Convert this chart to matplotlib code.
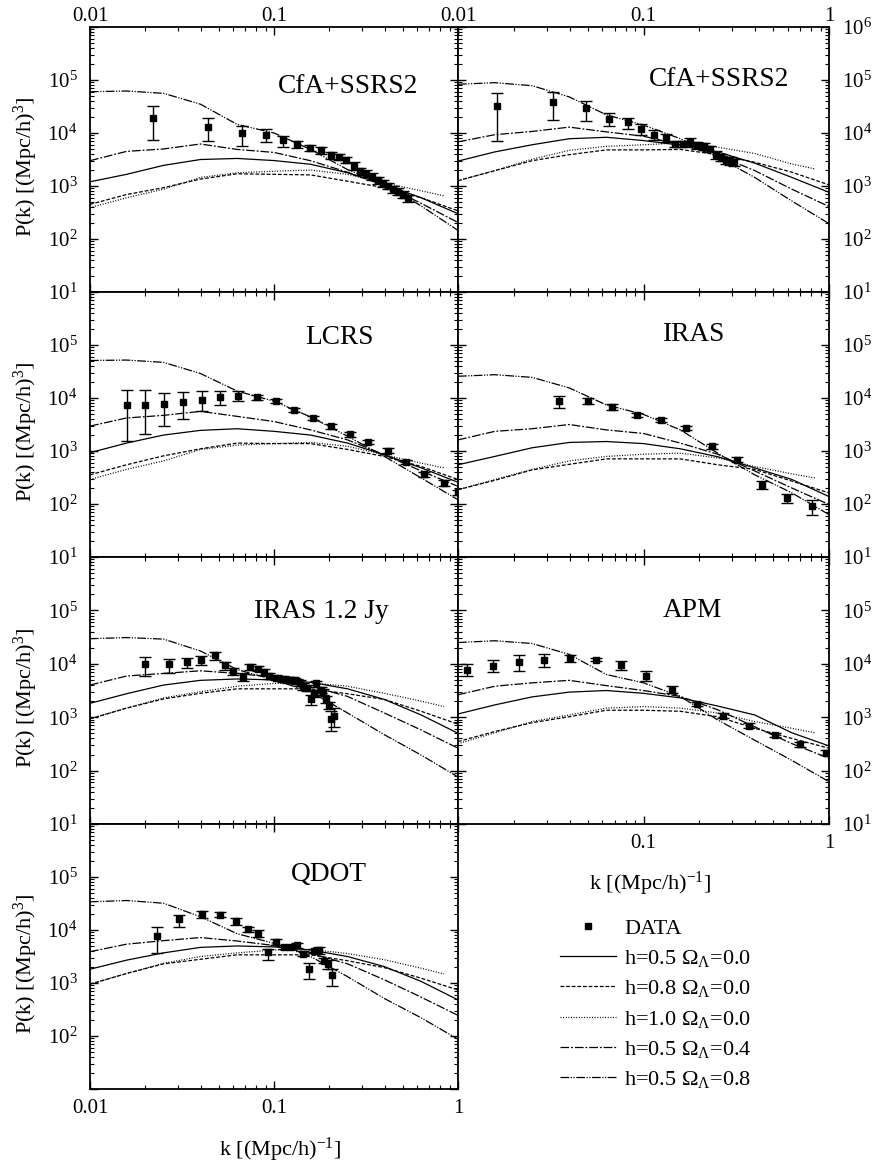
import matplotlib
matplotlib.use('Agg')
import matplotlib.pyplot as plt
from matplotlib.ticker import LogLocator, NullFormatter
from matplotlib.lines import Line2D

plt.rcParams['font.family'] = ['Liberation Serif', 'DejaVu Serif']
plt.rcParams['mathtext.fontset'] = 'custom'
plt.rcParams['mathtext.rm'] = 'Liberation Serif'
plt.rcParams['mathtext.it'] = 'Liberation Serif:italic'
plt.rcParams['mathtext.default'] = 'regular'

# model k grid (dotted model stops before k=1)
k_model = [0.01, 0.0158, 0.0251, 0.0398, 0.0631, 0.1, 0.158, 0.251, 0.398, 0.631, 1.0]
k_dotted = [0.01, 0.0158, 0.0251, 0.0398, 0.0631, 0.1, 0.158, 0.251, 0.398, 0.631, 0.84]

model_labels = [r'h=0.5 $\Omega_{\Lambda}$=0.0', r'h=0.8 $\Omega_{\Lambda}$=0.0',
                r'h=1.0 $\Omega_{\Lambda}$=0.0', r'h=0.5 $\Omega_{\Lambda}$=0.4',
                r'h=0.5 $\Omega_{\Lambda}$=0.8']

# ---- CfA+SSRS2 (left) ----
cfa1_k = [0.022, 0.044, 0.067, 0.090, 0.112, 0.134, 0.157, 0.181, 0.203, 0.226, 0.247,
          0.271, 0.292, 0.318, 0.343, 0.368, 0.392, 0.418, 0.445, 0.474, 0.505, 0.537]
cfa1_p = [19500, 13200, 9800, 9100, 7400, 6200, 5200, 4700, 3800, 3550, 3100,
          2400, 1900, 1700, 1510, 1290, 1120, 1000, 870, 780, 690, 590]
cfa1_lo = [7300, 7100, 5600, 6800, 5500, 5300, 4500, 4000, 3300, 3100, 2700,
           2000, 1600, 1450, 1300, 1100, 960, 860, 750, 670, 590, 500]
cfa1_hi = [33000, 19500, 13500, 11700, 8700, 7200, 6000, 5400, 4300, 4000, 3500,
           2800, 2200, 2000, 1750, 1500, 1300, 1160, 1010, 900, 800, 690]
cfa1_m1 = [1200, 1660, 2450, 3160, 3310, 3020, 2570, 1780, 1070, 600, 300]
cfa1_m2 = [450, 690, 930, 1350, 1700, 1660, 1620, 1230, 930, 600, 340]
cfa1_m3 = [390, 600, 870, 1450, 1780, 1900, 2000, 1660, 1150, 810, 650]
cfa1_m4 = [3000, 4500, 5000, 6200, 4900, 4300, 3000, 1820, 1020, 470, 205]
cfa1_m5 = [60000, 62000, 56000, 35000, 14500, 10000, 4900, 2040, 1070, 420, 145]

# ---- CfA+SSRS2 (right) ----
cfa2_k = [0.0163, 0.0326, 0.049, 0.0655, 0.0822, 0.0975, 0.114, 0.1315, 0.147, 0.163,
          0.1775, 0.195, 0.212, 0.228, 0.245, 0.261, 0.278, 0.292, 0.308]
cfa2_p = [32000, 39000, 29000, 18700, 15800, 12000, 9300, 8200, 6300, 6300,
          6800, 5900, 5600, 5000, 3900, 3400, 3100, 3000, 2800]
cfa2_lo = [7100, 17800, 17000, 13500, 11700, 9100, 7400, 6800, 5500, 5500,
           5800, 5000, 4800, 4300, 3300, 2900, 2600, 2500, 2350]
cfa2_hi = [56000, 60000, 41000, 24000, 19500, 15100, 11200, 9700, 7200, 7200,
           8000, 6900, 6500, 5800, 4500, 4000, 3600, 3500, 3300]
cfa2_m1 = [2950, 4400, 6000, 7800, 8300, 7200, 5900, 4400, 2700, 1450, 760]
cfa2_m2 = [1260, 1950, 3000, 3900, 4800, 4800, 4900, 3900, 2800, 1820, 1050]
cfa2_m3 = [1260, 1950, 3200, 4700, 5600, 6000, 6500, 5400, 4100, 2600, 2100]
cfa2_m4 = [6800, 9300, 10700, 12900, 10500, 8700, 6000, 3800, 1950, 870, 410]
cfa2_m5 = [83000, 89000, 78000, 48000, 22000, 14100, 7800, 3500, 1450, 520, 195]

# ---- LCRS ----
lcrs_k = [0.0158, 0.020, 0.0252, 0.032, 0.0405, 0.051, 0.064, 0.0807, 0.1025, 0.129,
          0.1625, 0.2047, 0.258, 0.325, 0.414, 0.522, 0.657, 0.835, 1.0]
lcrs_p = [7300, 7400, 7800, 8400, 9300, 10500, 11000, 10500, 8700, 6000,
          4200, 2950, 2050, 1480, 1020, 620, 370, 250, 165]
lcrs_lo = [1550, 2100, 2900, 4000, 5600, 7400, 8700, 9300, 7900, 5400,
           3800, 2650, 1850, 1330, 920, 560, 330, 220, 150]
lcrs_hi = [14000, 14300, 12300, 12900, 13500, 13800, 13500, 11500, 9600, 6600,
           4600, 3250, 2250, 1630, 1120, 680, 410, 280, 180]
lcrs_m1 = [930, 1410, 2000, 2450, 2630, 2350, 2000, 1410, 850, 480, 257]
lcrs_m2 = [355, 550, 810, 1100, 1410, 1380, 1380, 1070, 790, 510, 290]
lcrs_m3 = [290, 450, 650, 1070, 1290, 1380, 1450, 1230, 850, 590, 480]
lcrs_m4 = [2950, 4200, 4700, 5600, 4500, 3600, 2500, 1620, 850, 420, 215]
lcrs_m5 = [51000, 52000, 47000, 29000, 13500, 8700, 4400, 1900, 790, 310, 120]

# ---- IRAS ----
iras_k = [0.0351, 0.050, 0.0677, 0.0924, 0.125, 0.170, 0.233, 0.319, 0.436, 0.595, 0.813]
iras_p = [8700, 8700, 6700, 4700, 3800, 2700, 1230, 690, 230, 130, 91]
iras_lo = [6600, 7800, 5900, 4400, 3500, 2450, 1100, 620, 195, 105, 63]
iras_hi = [10700, 10000, 7800, 5200, 4200, 2950, 1350, 760, 270, 155, 117]
iras_m1 = [550, 790, 1150, 1450, 1510, 1380, 1100, 780, 480, 290, 138]
iras_m2 = [186, 280, 440, 560, 710, 710, 710, 550, 450, 270, 162]
iras_m3 = [186, 290, 450, 650, 790, 870, 910, 740, 510, 370, 310]
iras_m4 = [1620, 2350, 2630, 3160, 2500, 2140, 1410, 870, 420, 200, 98]
iras_m5 = [25700, 27500, 24500, 15500, 7400, 4900, 2500, 910, 355, 162, 63]

# ---- IRAS 1.2 Jy ----
jy_k = [0.020, 0.0268, 0.0335, 0.040, 0.0478, 0.054, 0.060, 0.0675, 0.0743, 0.0815,
        0.0886, 0.0943, 0.1025, 0.1115, 0.1188, 0.1265, 0.133, 0.1387, 0.1446, 0.151,
        0.158, 0.164, 0.170, 0.179, 0.1845, 0.192, 0.199, 0.2048, 0.211]
jy_p = [9800, 9800, 11000, 11700, 14400, 9300, 7200, 5600, 8700, 8100,
        7100, 5900, 5500, 5200, 5000, 4900, 4700, 4400, 3800, 3550,
        2150, 2800, 4300, 3300, 3000, 2150, 1660, 930, 1070]
jy_lo = [6000, 6800, 8300, 9300, 12000, 7800, 6300, 4700, 7600, 7200,
         6300, 5200, 4900, 4600, 4400, 4300, 4100, 3900, 3300, 3100,
         1700, 2400, 3700, 2900, 2600, 1850, 1400, 560, 660]
jy_hi = [13500, 12300, 12900, 13800, 16600, 10700, 8300, 6800, 9800, 9100,
         8100, 6700, 6200, 5900, 5700, 5600, 5300, 5000, 4300, 4000,
         2630, 3200, 4700, 3700, 3400, 2500, 1960, 1290, 1480]
jy_m1 = [1820, 2750, 4000, 4900, 5200, 5000, 4500, 3400, 2150, 1100, 500]
jy_m2 = [930, 1480, 2200, 2800, 3400, 3400, 3400, 2750, 2150, 1290, 740]
jy_m3 = [930, 1480, 2300, 3000, 3800, 4300, 4400, 3800, 2800, 2000, 1580]
jy_m4 = [4000, 5900, 6600, 7400, 6600, 5600, 3800, 2450, 1200, 575, 263]
jy_m5 = [29500, 31000, 29000, 17400, 7800, 5000, 3000, 1200, 470, 195, 76]

# ---- APM ----
apm_k = [0.01124, 0.0155, 0.0212, 0.0292, 0.0403, 0.0552, 0.0754, 0.1033, 0.142,
         0.1953, 0.269, 0.372, 0.510, 0.694, 0.968]
apm_p = [7600, 9100, 10700, 12000, 12600, 12000, 9400, 6000, 3300, 1800, 1070, 690, 460, 310, 210]
apm_lo = [5900, 6900, 7400, 8700, 10700, 11200, 7800, 4700, 2800, 1620, 980, 620, 420, 280, 195]
apm_hi = [9800, 11700, 14500, 15500, 14500, 12900, 11200, 7200, 3800, 1900, 1200, 780, 510, 350, 240]
apm_m1 = [1150, 1700, 2400, 2950, 3160, 2800, 2300, 1620, 1100, 510, 290]
apm_m2 = [350, 540, 790, 1020, 1350, 1350, 1290, 1020, 620, 400, 263]
apm_m3 = [320, 510, 830, 1100, 1480, 1580, 1480, 1200, 830, 620, 510]
apm_m4 = [2630, 3800, 4400, 4900, 3900, 3160, 2450, 1380, 660, 320, 170]
apm_m5 = [25000, 27000, 24000, 15000, 6300, 4400, 2450, 890, 370, 155, 62]

# ---- QDOT ----
qdot_k = [0.0231, 0.0306, 0.0407, 0.0509, 0.0620, 0.0718, 0.0814, 0.0923, 0.1025, 0.113,
          0.1228, 0.133, 0.1435, 0.154, 0.166, 0.1754, 0.186, 0.196, 0.2065]
qdot_p = [7600, 15800, 20000, 19500, 14700, 10500, 8500, 3800, 6000, 4700,
          4700, 5200, 3600, 1800, 4100, 4200, 2600, 2300, 1400]
qdot_lo = [3700, 11500, 16800, 17400, 12600, 9300, 7400, 2700, 5100, 4300,
           4300, 4500, 3300, 1180, 3800, 3600, 2400, 1800, 870]
qdot_hi = [11500, 19000, 22400, 22000, 16600, 11500, 10000, 4300, 6800, 5100,
           5100, 5800, 4000, 2400, 4400, 4700, 2900, 2700, 1800]
qdot_m1 = [1820, 2700, 3700, 4700, 5000, 4800, 4200, 3160, 2040, 1070, 480]
qdot_m2 = [950, 1510, 2300, 2800, 3400, 3400, 3400, 2630, 1950, 1230, 740]
qdot_m3 = [950, 1510, 2350, 3160, 3700, 4200, 4300, 3600, 2750, 1900, 1480]
qdot_m4 = [3900, 5400, 6300, 7200, 6200, 5100, 3600, 2300, 1150, 540, 245]
qdot_m5 = [34000, 36000, 32000, 17800, 8500, 5600, 3160, 1320, 510, 220, 87]

line_styles = ['-', (0, (3, 1.5)), (0, (0.8, 1.3)), (0, (7, 1.5, 1.5, 1.5)),
               (0, (7, 1.2, 1, 1.2, 1, 1.2))]

W, H = 872, 1167
fig = plt.figure(figsize=(W / 100, H / 100), dpi=100)

row_top = [27, 292, 557, 824]
row_bot = [292, 557, 824, 1089]
col_x = [(90, 458), (458, 829)]


def make_axes(row, col):
    x0, x1 = col_x[col]
    return fig.add_axes([x0 / W, 1 - row_bot[row] / H, (x1 - x0) / W,
                         (row_bot[row] - row_top[row]) / H])


def draw_panel(ax, title, tx, ty, k, p, lo, hi, models):
    for m, ls in zip(models, line_styles):
        kk = k_dotted if ls == line_styles[2] else k_model
        ax.plot(kk, m, color='black', lw=0.9, linestyle=ls)
    yerr = [[a - b for a, b in zip(p, lo)], [b - a for a, b in zip(p, hi)]]
    ax.errorbar(k, p, yerr=yerr, fmt='s', ms=5, color='black', elinewidth=1,
                capsize=4.5, capthick=1)
    ax.set_xscale('log')
    ax.set_yscale('log')
    ax.set_xlim(0.01, 1)
    ax.set_ylim(10, 1e6)
    ax.text(tx, ty, title, transform=ax.transAxes, fontsize=19.7, ha='center', va='center')
    ax.xaxis.set_minor_locator(LogLocator(base=10, subs=range(2, 10)))
    ax.yaxis.set_minor_locator(LogLocator(base=10, subs=range(2, 10), numticks=20))
    ax.xaxis.set_minor_formatter(NullFormatter())
    ax.yaxis.set_minor_formatter(NullFormatter())
    ax.tick_params(which='both', direction='in', top=True, right=True,
                   labelbottom=False, labelleft=False, labelsize=15)
    ax.tick_params(which='major', length=6, width=1)
    ax.tick_params(which='minor', length=3, width=0.8)
    ax.tick_params(axis='y', pad=9)
    ax.tick_params(axis='x', pad=7)
    for s in ax.spines.values():
        s.set_linewidth(1.3)


def ylabels(ax, labels, side):
    ax.set_yticks([1e1, 1e2, 1e3, 1e4, 1e5, 1e6])
    ax.set_yticklabels(labels)
    if side == 'left':
        ax.tick_params(axis='y', labelleft=True)
    else:
        ax.tick_params(axis='y', labelleft=False, labelright=True)


def xlabels(ax, labels, side):
    ax.set_xticks([0.01, 0.1, 1])
    ax.set_xticklabels(labels)
    if side == 'top':
        ax.tick_params(axis='x', labeltop=True, labelbottom=False, pad=1)
    else:
        ax.tick_params(axis='x', labelbottom=True)


dec = [r'$10^{1}$', r'$10^{2}$', r'$10^{3}$', r'$10^{4}$', r'$10^{5}$', r'$10^{6}$']
ylab = r'P(k) [(Mpc/h)$^{3}$]'
xlab = r'k [(Mpc/h)$^{-1}$]'

ax1 = make_axes(0, 0)
draw_panel(ax1, 'CfA+SSRS2', 0.70, 0.775, cfa1_k, cfa1_p, cfa1_lo, cfa1_hi,
           [cfa1_m1, cfa1_m2, cfa1_m3, cfa1_m4, cfa1_m5])
ylabels(ax1, dec[:5] + [''], 'left')
xlabels(ax1, ['0.01', '0.1', ''], 'top')

ax2 = make_axes(0, 1)
draw_panel(ax2, 'CfA+SSRS2', 0.705, 0.80, cfa2_k, cfa2_p, cfa2_lo, cfa2_hi,
           [cfa2_m1, cfa2_m2, cfa2_m3, cfa2_m4, cfa2_m5])
ylabels(ax2, dec, 'right')
xlabels(ax2, ['0.01', '0.1', '1'], 'top')

ax3 = make_axes(1, 0)
draw_panel(ax3, 'LCRS', 0.677, 0.83, lcrs_k, lcrs_p, lcrs_lo, lcrs_hi,
           [lcrs_m1, lcrs_m2, lcrs_m3, lcrs_m4, lcrs_m5])
ylabels(ax3, dec[:5] + [''], 'left')

ax4 = make_axes(1, 1)
draw_panel(ax4, 'IRAS', 0.633, 0.838, iras_k, iras_p, iras_lo, iras_hi,
           [iras_m1, iras_m2, iras_m3, iras_m4, iras_m5])
ylabels(ax4, dec[:5] + [''], 'right')

ax5 = make_axes(2, 0)
draw_panel(ax5, 'IRAS 1.2 Jy', 0.63, 0.795, jy_k, jy_p, jy_lo, jy_hi,
           [jy_m1, jy_m2, jy_m3, jy_m4, jy_m5])
ylabels(ax5, dec[:5] + [''], 'left')

ax6 = make_axes(2, 1)
draw_panel(ax6, 'APM', 0.631, 0.80, apm_k, apm_p, apm_lo, apm_hi,
           [apm_m1, apm_m2, apm_m3, apm_m4, apm_m5])
ylabels(ax6, dec[:5] + [''], 'right')
xlabels(ax6, ['', '0.1', '1'], 'bottom')

ax7 = make_axes(3, 0)
draw_panel(ax7, 'QDOT', 0.649, 0.81, qdot_k, qdot_p, qdot_lo, qdot_hi,
           [qdot_m1, qdot_m2, qdot_m3, qdot_m4, qdot_m5])
ylabels(ax7, [''] + dec[1:5] + [''], 'left')
xlabels(ax7, ['0.01', '0.1', '1'], 'bottom')

# y axis titles for the left column
for r in range(4):
    yc = (row_top[r] + row_bot[r]) / 2 + 7
    fig.text(26 / W, 1 - yc / H, ylab, rotation=90, fontsize=16, ha='center', va='center')

# x axis titles
fig.text(280 / W, 1 - 1150 / H, xlab, fontsize=16, ha='center', va='center')
fig.text(650 / W, 1 - 884 / H, xlab, fontsize=16, ha='center', va='center')

# legend
handles = [Line2D([], [], marker='s', ms=5, color='black', linestyle='none')]
for ls in line_styles:
    handles.append(Line2D([], [], color='black', lw=0.9, linestyle=ls))
fig.legend(handles, ['DATA'] + model_labels, loc='upper left',
           bbox_to_anchor=(560 / W, 1 - 918 / H), frameon=False, fontsize=16,
           handlelength=2.5, handletextpad=0.4, labelspacing=0.42, borderpad=0,
           borderaxespad=0)

fig.savefig('out.png', dpi=100)
